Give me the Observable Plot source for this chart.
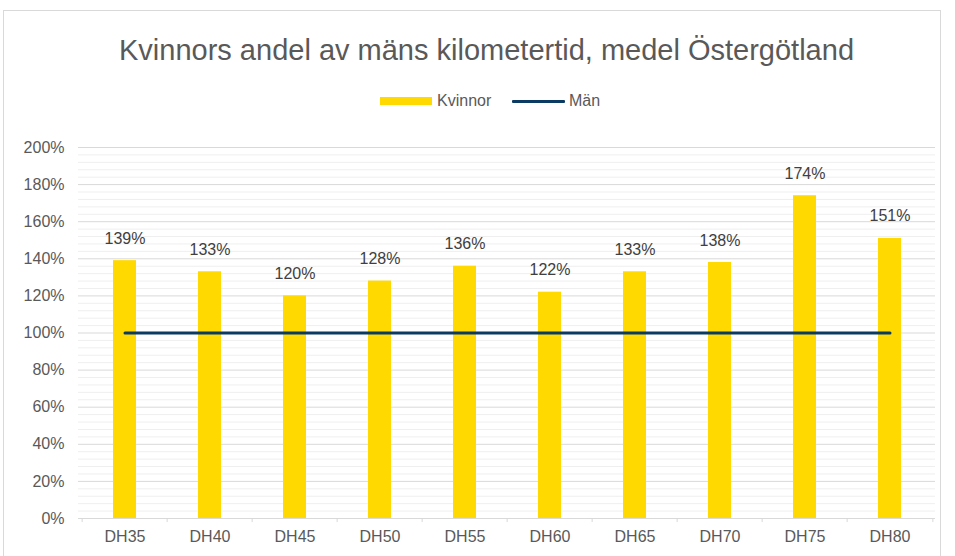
<!DOCTYPE html>
<html><head><meta charset="utf-8">
<script src="https://cdn.jsdelivr.net/npm/d3@7"></script>
<script src="https://cdn.jsdelivr.net/npm/@observablehq/plot@0.6"></script>
<style>
body{margin:0;background:#fff;font-family:"Liberation Sans",Arial,sans-serif;}
#wrap{position:relative;width:955px;height:556px;overflow:hidden;}
#frame{position:absolute;left:3px;top:10px;width:936px;height:560px;border:1px solid #d9d9d9;}
#title{position:absolute;left:0;width:973px;top:34px;text-align:center;font-size:29px;line-height:33px;color:#595959;white-space:nowrap;}
.lg{position:absolute;font-size:16px;line-height:18px;color:#595959;white-space:nowrap;}
#chart{position:absolute;left:0;top:0;}
</style></head>
<body><div id="wrap"><div id="frame"></div><div id="chart"></div>
<div id="title">Kvinnors andel av mäns kilometertid, medel Östergötland</div>
<div style="position:absolute;left:380px;top:97px;width:52px;height:8px;background:#FFD900"></div>
<div class="lg" style="left:437px;top:92px">Kvinnor</div>
<div style="position:absolute;left:512px;top:99.5px;width:53px;height:3px;background:#0B3A62;border-radius:1px"></div>
<div class="lg" style="left:569px;top:92px">Män</div>
</div>
<script>
const categories = ["DH35","DH40","DH45","DH50","DH55","DH60","DH65","DH70","DH75","DH80"];
const kvinnor = [1.39,1.33,1.20,1.28,1.36,1.22,1.33,1.38,1.74,1.51];
const man = [1,1,1,1,1,1,1,1,1,1];
const yMajor = [0,0.2,0.4,0.6,0.8,1.0,1.2,1.4,1.6,1.8,2.0];
const yMinor = d3.range(0,2.0001,0.04).filter(v => Math.abs(Math.round(v*5)-v*5) > 1e-6);

const data = categories.map((c,i)=>({c, k: kvinnor[i], m: man[i]}));
const W=955,H=556,mL=78,mR=20,mT=147,mB=38;
const step=(W-mL-mR)/categories.length;
const fmt=d3.format(".0%");
const bounds = categories.map((c,i)=>({c, dx:-step/2})).concat([{c:categories[categories.length-1], dx:step/2}]);

const plot = Plot.plot({
  width:W,height:H,marginLeft:mL,marginRight:mR,marginTop:mT,marginBottom:mB,
  style:{fontFamily:"Liberation Sans, Arial, sans-serif",fontSize:"16px",color:"#595959",background:"transparent"},
  x:{domain:categories,paddingInner:0.73,paddingOuter:0.365,label:null},
  y:{domain:[0,2],label:null},
  marks:[
    Plot.gridY(yMinor,{stroke:"#efefef",strokeOpacity:1,strokeWidth:1}),
    Plot.gridY(yMajor.slice(1),{stroke:"#d9d9d9",strokeOpacity:1,strokeWidth:1}),
    Plot.axisY(yMajor,{tickSize:0,tickPadding:14,tickFormat:fmt,fontSize:16,fill:"#595959"}),
    Plot.axisX({tickSize:0,tickPadding:12,fontSize:16,fill:"#595959"}),
    Plot.barY(data,{x:"c",y:"k",fill:"#FFD900"}),
    Plot.ruleY([0],{stroke:"#d9d9d9",strokeWidth:1}),
    ...bounds.map(b=>Plot.ruleX([b.c],{x:d=>d,y1:0,y2:-0.022,dx:b.dx,stroke:"#d9d9d9"})),
    Plot.lineY(data,{x:"c",y:"m",stroke:"#0B3A62",strokeWidth:3}),
    Plot.text(data,{x:"c",y:"k",text:d=>fmt(d.k),lineAnchor:"bottom",dy:-17,fontSize:16,fill:"#404040"})
  ]
});
document.getElementById("chart").appendChild(plot);
</script></body></html>
